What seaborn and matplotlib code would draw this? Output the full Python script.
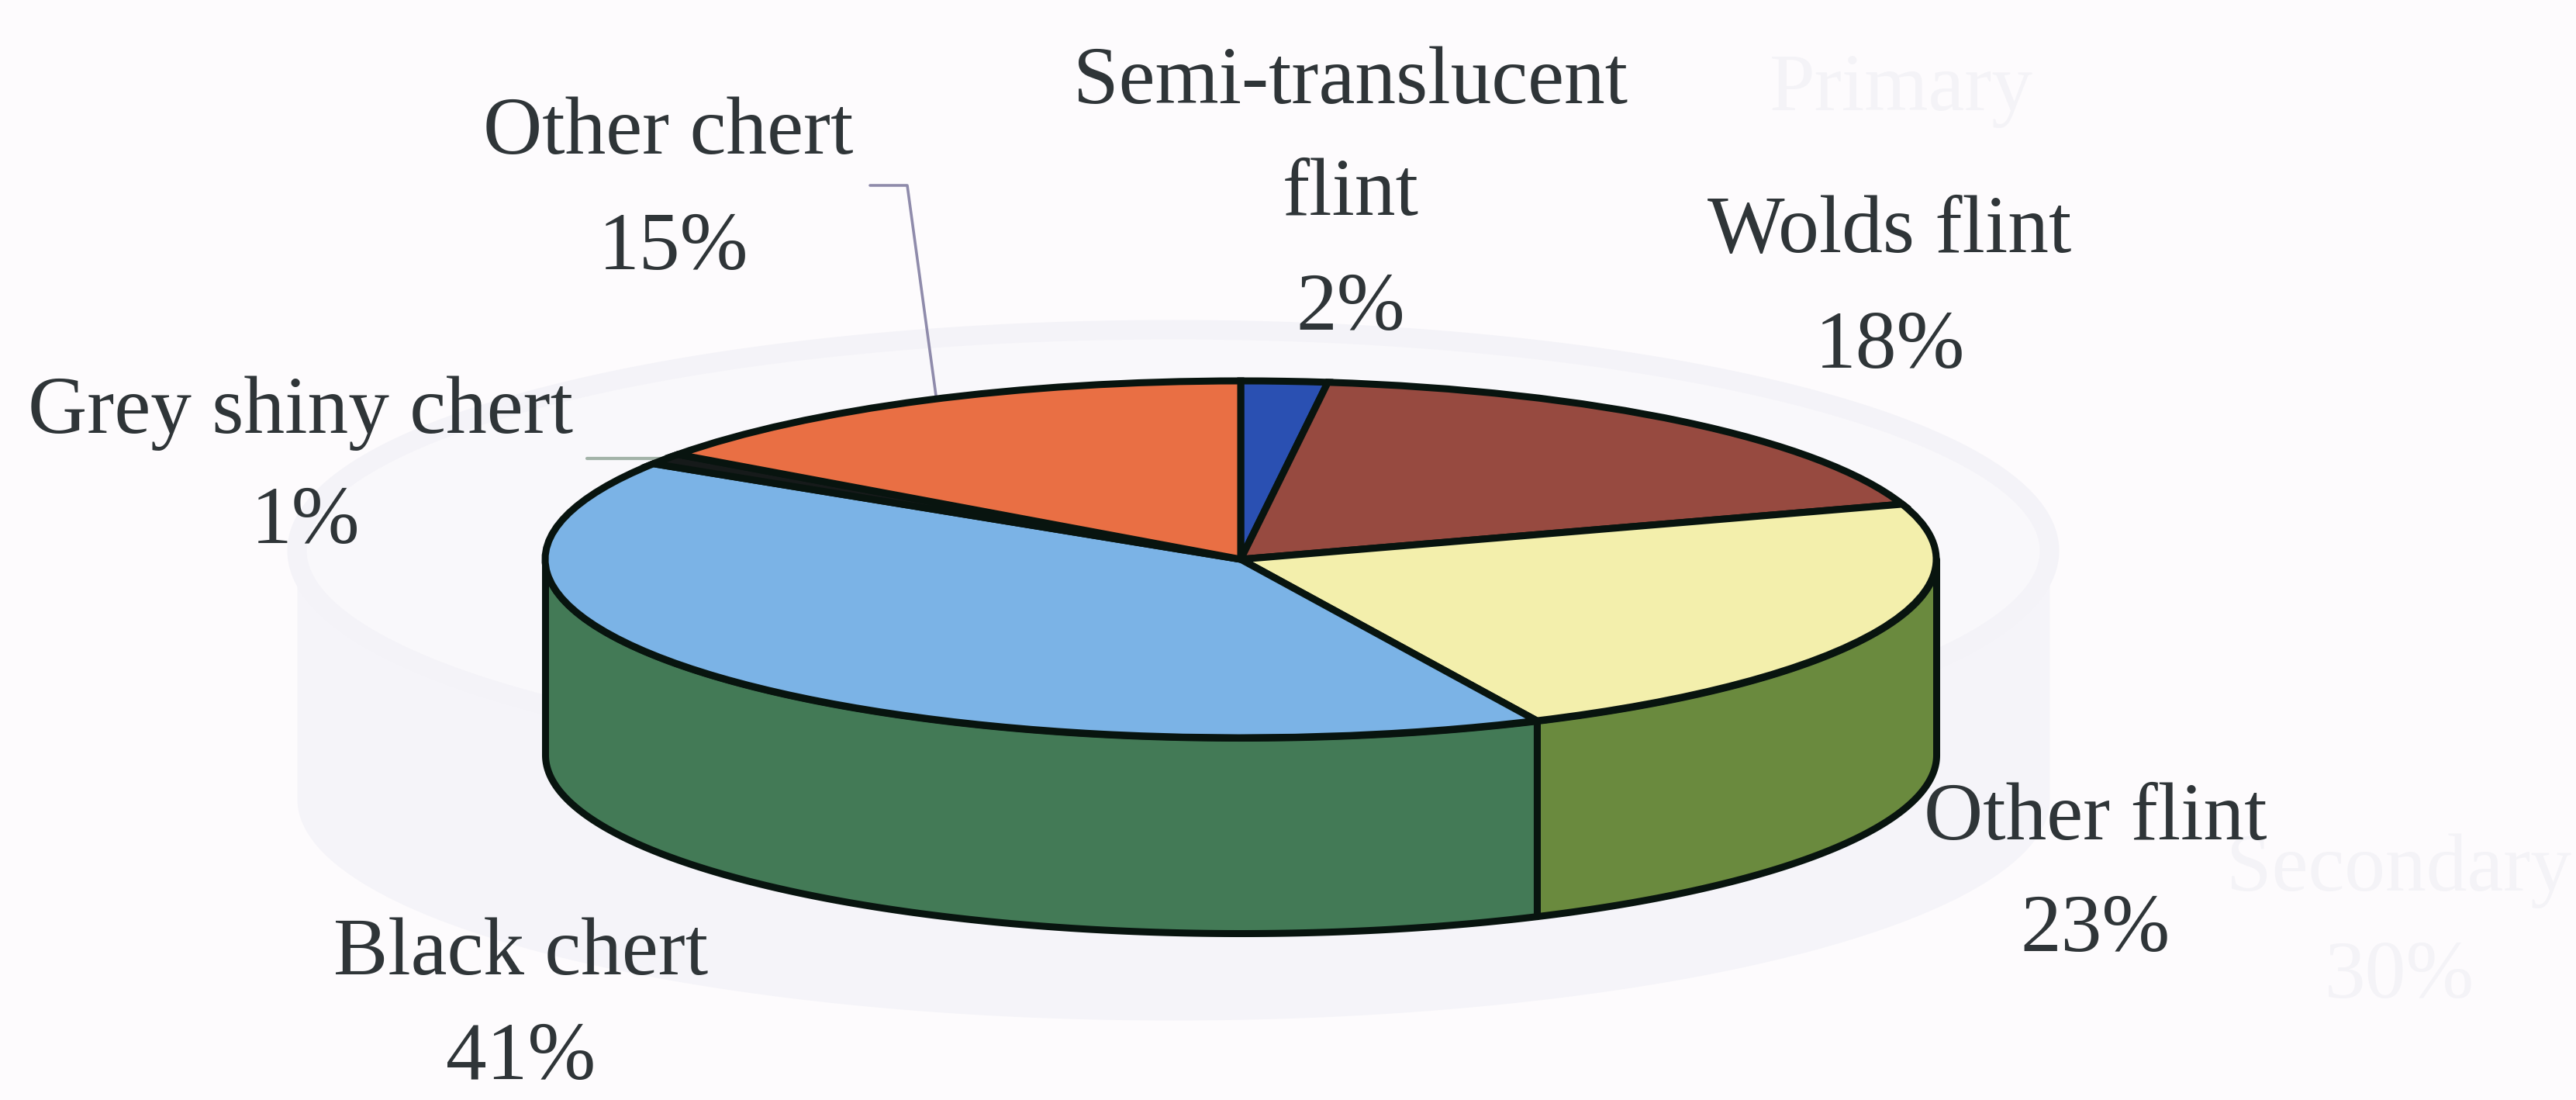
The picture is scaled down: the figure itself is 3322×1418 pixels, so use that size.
import numpy as np
import matplotlib
matplotlib.use("Agg")
import matplotlib.pyplot as plt
import seaborn as sns

# ---- data ----
categories = ["Semi-translucent\nflint", "Wolds flint", "Other flint",
              "Black chert", "Grey shiny chert", "Other chert"]
shares = [2, 18, 23, 41, 1, 15]
top_colors = ["#2a50b2", "#974a40", "#f3efac", "#7bb3e6", "#161a1a", "#e96f44"]
side_colors = ["#1c3a80", "#6f352e", "#6a8a3e", "#437a56", "#111111", "#a84e30"]

# ---- layout (pixels of the 3323x1418 picture) ----
W, H = 3323, 1418
CX, CY, RX, RY, DEPTH = 1600, 721, 897, 230, 252
label_xy = [(1742, 108), (2437, 300), (2702, 1057), (672, 1231), (388, 533), (862, 173)]
value_xy = [(1742, 400), (2437, 449), (2702, 1201), (672, 1366), (394, 675), (869, 322)]
BG = "#fdfbfd"

sns.set_theme(style="white", rc={"figure.facecolor": BG, "axes.facecolor": BG})
plt.rcParams["font.family"] = ["Liberation Serif", "DejaVu Serif"]
palette = sns.color_palette(top_colors)
side_palette = sns.color_palette(side_colors)

fig = plt.figure(figsize=(W / 100, H / 100), dpi=100)
ax = fig.add_axes([0, 0, 1, 1])


def ux(x):
    return (np.asarray(x, dtype=float) - CX) / RX


def uy(y):
    return (CY - np.asarray(y, dtype=float)) / RY


# faint show-through of the chart printed on the reverse of the page
ghost_cx, ghost_cy, ghost_rx, ghost_ry, ghost_d = 1513, 710, 1130, 285, 320
gt = np.radians(np.linspace(0, 360, 361))
gx = ux(ghost_cx + ghost_rx * np.sin(gt))
ax.fill_between(ux(ghost_cx + ghost_rx * np.sin(gt[90:271])),
                uy(ghost_cy - ghost_ry * np.cos(gt[90:271]) + ghost_d),
                uy(ghost_cy - ghost_ry * np.cos(gt[90:271])),
                color="#f5f4f9", lw=0, zorder=0)
ax.fill(gx, uy(ghost_cy - ghost_ry * np.cos(gt)), facecolor="#f9f8fb",
        edgecolor="#f4f3f8", lw=18, zorder=0.5)
for s, x, y in [("Primary", 2452, 117), ("Secondary", 3094, 1123), ("30%", 3094, 1261)]:
    ax.text(ux(x), uy(y), s, fontsize=76, color="#f4f3f7", ha="center", va="center", zorder=0.6)

# side wall of the disc (front half only, from the same cumulative shares)
edges = np.cumsum([0] + shares) / sum(shares) * 360
for i in range(len(shares)):
    a0, a1 = max(edges[i], 90), min(edges[i + 1], 270)
    if a1 <= a0:
        continue
    t = np.radians(np.linspace(a0, a1, 200))
    x, y = np.sin(t), np.cos(t)
    ax.fill_between(x, y - DEPTH / RY, y, facecolor=side_palette[i],
                    edgecolor="#08140f", lw=6.5, zorder=2)

# top face: a real pie, squeezed by the unequal axis scales
ax.pie(shares, colors=palette, startangle=90, counterclock=False, radius=1,
       center=(0, 0), frame=True,
       wedgeprops={"edgecolor": "#08140f", "linewidth": 6.5, "zorder": 3})

ax.set_aspect("auto")
ax.set_xlim(ux(0), ux(W))
ax.set_ylim(uy(H), uy(0))
ax.set_xticks([])
ax.set_yticks([])
sns.despine(ax=ax, left=True, bottom=True)

# leader lines
ax.plot(ux([1122, 1170, 1207]), uy([239, 239, 510]), color="#8f8bab", lw=2.6, zorder=1.5)
ax.plot(ux([757, 860]), uy([591, 591]), color="#a3b3a8", lw=3, zorder=1.5)

# labels
TEXT = "#2f3538"
for i, cat in enumerate(categories):
    parts = cat.split("\n")
    x, y = label_xy[i]
    for j, part in enumerate(parts):
        ax.text(ux(x), uy(y + j * 144), part, fontsize=76, color=TEXT,
                ha="center", va="center", zorder=5)
    vx, vy = value_xy[i]
    ax.text(ux(vx), uy(vy), f"{shares[i]}%", fontsize=76, color=TEXT,
            ha="center", va="center", zorder=5)

fig.savefig("out.png", dpi=100, facecolor=BG)
